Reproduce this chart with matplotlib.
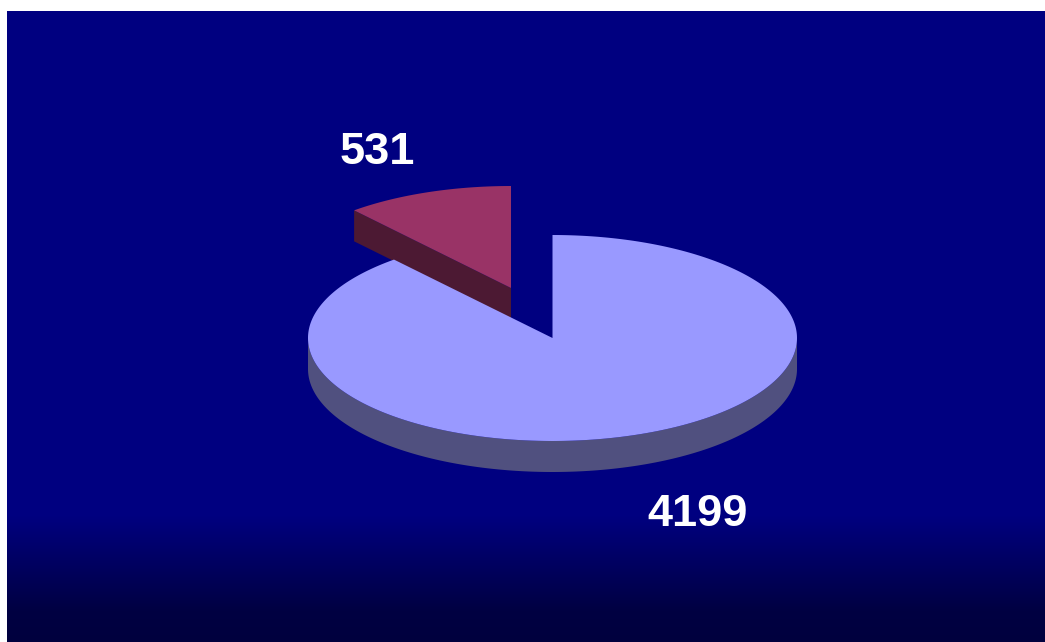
import numpy as np
import matplotlib
matplotlib.use('Agg')
import matplotlib.pyplot as plt

# slice values, big slice first
values = [4199, 531]
labels = ['4199', '531']
top_colors = ['#9999FF', '#993366']
side_colors = ['#50507F', '#4C1933']

plt.rcParams['font.family'] = ['Liberation Sans', 'DejaVu Sans']

fig = plt.figure(figsize=(10.45, 6.42), dpi=100, facecolor='white')
# axes in image pixels, y pointing down
ax = fig.add_axes([0, 0, 1, 1])
ax.axis('off')

# navy background fading to dark at the bottom
grad_y = np.arange(11, 642)
shade = np.interp(grad_y, [11, 515, 610, 642], [128, 128, 66, 62])
bg = np.zeros((len(grad_y), 1, 3))
bg[:, 0, 2] = shade / 255
ax.imshow(bg, extent=(7, 1045, 642, 11), aspect='auto', interpolation='nearest', zorder=0)
ax.set_xlim(0, 1045)
ax.set_ylim(642, 0)

# pie geometry
depth = 31
big_c, big_r = (552.5, 338), (244.5, 103)
small_c, small_r = (511, 288), (242, 102)
small_angle = 360 * values[1] / sum(values)


def ell(c, r, a):
    a = np.radians(a)
    return c[0] + r[0] * np.cos(a), c[1] - r[1] * np.sin(a)


# red slice, pulled out, goes behind the big one
a1 = np.linspace(90, 90 + small_angle, 100)
x, y = ell(small_c, small_r, a1)
ex, ey = ell(small_c, small_r, a1[-1])
ax.fill([ex, small_c[0], small_c[0], ex], [ey, small_c[1], small_c[1] + depth, ey + depth],
        color=side_colors[1], lw=0, zorder=2)
ax.fill(np.r_[small_c[0], x], np.r_[small_c[1], y], color=top_colors[1], lw=0, zorder=3)

# big slice, rim first then the top
a2 = np.linspace(180, 360, 200)
x, y = ell(big_c, big_r, a2)
ax.fill(np.r_[x, x[::-1]], np.r_[y, y[::-1] + depth], color=side_colors[0], lw=0, zorder=4)
a3 = np.linspace(90 + small_angle, 450, 400)
x, y = ell(big_c, big_r, a3)
ax.fill(np.r_[big_c[0], x], np.r_[big_c[1], y], color=top_colors[0], lw=0, zorder=5)

ax.text(698, 514, labels[0], color='white', fontsize=32.5, fontweight='bold',
        ha='center', va='center', zorder=6)
ax.text(377, 153, labels[1], color='white', fontsize=32.5, fontweight='bold',
        ha='center', va='center', zorder=6)

fig.savefig('out.png', dpi=100)
